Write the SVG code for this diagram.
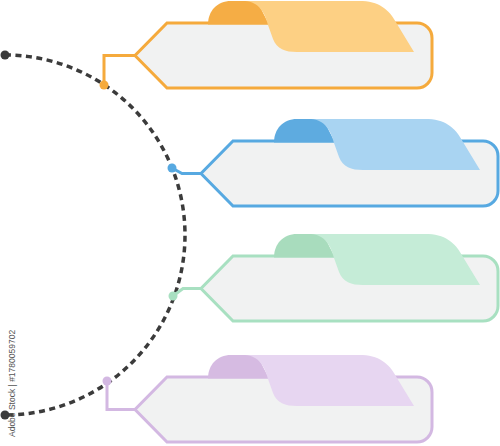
<svg xmlns="http://www.w3.org/2000/svg" width="500" height="446" viewBox="0 0 500 446">
<style>
.card{fill:#f1f2f2;stroke-width:3;stroke-linejoin:miter}
.lead{fill:none;stroke-width:3}
.arc{fill:none;stroke:#3b3b3b;stroke-width:3.5;stroke-dasharray:6 4.5}
.wm{font-family:"Liberation Sans",Arial,sans-serif;font-size:8.5px;fill:#555}
</style>
<defs>
<path id="card" d="M0,0 L250,0 A15,15 0 0 1 265,15 L265,50 A15,15 0 0 1 250,65 L0,65 L-32,32.5 Z"/>
<path id="hump" d="M41,1.5 C41,-12 50,-22 64,-22 L90,-22 L102,1.5 Z"/>
<path id="paper" d="M78,-22 L192,-22 C212,-22 222,-14 230,1 L247,29 L130,29 C118,29 110,26 106,16 L101,2 C98,-10 92,-21 78,-22 Z"/>
</defs>
<rect width="500" height="446" fill="#ffffff"/>
<g id="connectors">
<path class="arc" d="M5,55 A180,180 0 0 1 5,415"/>
<circle cx="5" cy="55" r="4.5" fill="#3b3b3b"/>
<circle cx="5" cy="415" r="4.5" fill="#3b3b3b"/>
</g>
<g id="node-orange">
<path class="lead" stroke="#f5aa3c" d="M135,55.5 L104,55.5 L104,85"/>
<circle cx="104" cy="85" r="4.5" fill="#f5aa3c"/>
<use href="#card" class="card" stroke="#f5aa3c" transform="translate(167,23)"/>
<use href="#hump" fill="#f5ad45" transform="translate(167,23)"/>
<use href="#paper" fill="#fdd084" transform="translate(167,23)"/>
</g>
<g id="node-blue">
<path class="lead" stroke="#57a9e1" d="M201,173.5 L182,173.5 L172,168"/>
<circle cx="172" cy="168" r="4.5" fill="#57a9e1"/>
<use href="#card" class="card" stroke="#57a9e1" transform="translate(233,141)"/>
<use href="#hump" fill="#5eabe0" transform="translate(233,141)"/>
<use href="#paper" fill="#a9d4f2" transform="translate(233,141)"/>
</g>
<g id="node-green">
<path class="lead" stroke="#a8e0c1" d="M201,288.5 L183,288.5 L173,296"/>
<circle cx="173" cy="296" r="4.5" fill="#a8e0c1"/>
<use href="#card" class="card" stroke="#a8e0c1" transform="translate(233,256)"/>
<use href="#hump" fill="#a8dcbd" transform="translate(233,256)"/>
<use href="#paper" fill="#c5ecd7" transform="translate(233,256)"/>
</g>
<g id="node-purple">
<path class="lead" stroke="#d3b8e2" d="M135,409.5 L107,409.5 L107,381"/>
<circle cx="107" cy="381" r="4.5" fill="#d3b8e2"/>
<use href="#card" class="card" stroke="#d3b8e2" transform="translate(167,377)"/>
<use href="#hump" fill="#d6bbe2" transform="translate(167,377)"/>
<use href="#paper" fill="#e7d6f1" transform="translate(167,377)"/>
</g>
<text class="wm" transform="translate(15,437) rotate(-90)">Adobe Stock | #1780059702</text>
</svg>
